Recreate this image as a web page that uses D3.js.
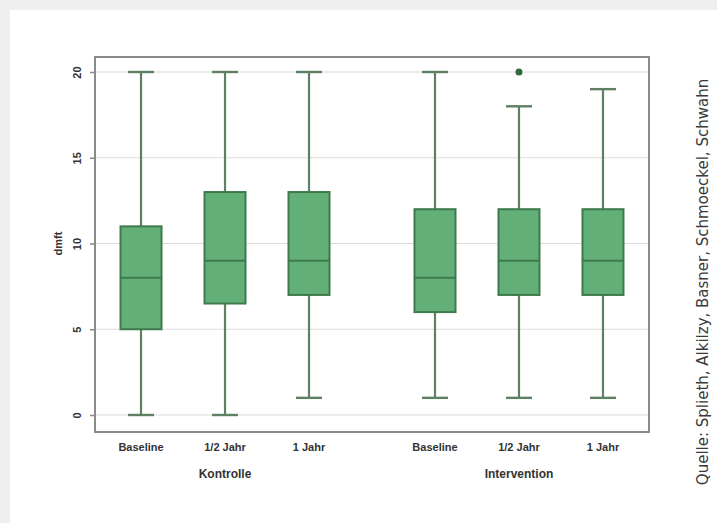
<!DOCTYPE html>
<html>
<head>
<meta charset="utf-8">
<script src="https://cdn.jsdelivr.net/npm/d3@7"></script>
<style>
  html, body { margin: 0; padding: 0; background: #efefef; }
  svg { display: block; }
  .tick text, .cat, .grp, .ytitle { font-family: "Liberation Sans", Arial, sans-serif; font-weight: bold; fill: #333; }
  .src { font-family: "DejaVu Sans", "Noto Sans", sans-serif; font-weight: 400; fill: #3a3a3a; }
</style>
</head>
<body>
<svg id="chart" width="717" height="523"></svg>
<script>
// groups and time points
const groups = ["Kontrolle", "Intervention"];
const timepoints = ["Baseline", "1/2 Jahr", "1 Jahr"];

// box statistics per group, in timepoint order
const mins    = [[0, 0, 1], [1, 1, 1]];
const q1s     = [[5, 6.5, 7], [6, 7, 7]];
const medians = [[8, 9, 9], [8, 9, 9]];
const q3s     = [[11, 13, 13], [12, 12, 12]];
const maxs    = [[20, 20, 20], [20, 18, 19]];
const outliers = [[[], [], []], [[], [20], []]];

const yTicks = [0, 5, 10, 15, 20];

const svg = d3.select("#chart");

// white card
svg.append("rect")
  .attr("x", 10).attr("y", 10)
  .attr("width", 717).attr("height", 523)
  .attr("fill", "#fff");

const frame = { left: 95, right: 649, top: 57, bottom: 432 };

// flat list of boxes with slot positions (half-box gap between groups)
const boxes = [];
groups.forEach((g, gi) => {
  timepoints.forEach((t, ti) => {
    boxes.push({
      group: g, label: t, slot: gi * 3.5 + ti,
      min: mins[gi][ti], q1: q1s[gi][ti], med: medians[gi][ti],
      q3: q3s[gi][ti], max: maxs[gi][ti], out: outliers[gi][ti]
    });
  });
});

const x = d3.scaleLinear().domain([-0.548, 6.048]).range([frame.left, frame.right]);
const y = d3.scaleLinear().domain([0, 20]).range([415, 72]);

// gridlines
svg.append("g")
  .selectAll("line")
  .data(yTicks)
  .join("line")
  .attr("x1", frame.left).attr("x2", frame.right)
  .attr("y1", d => y(d)).attr("y2", d => y(d))
  .attr("stroke", "#dcdcdc").attr("stroke-width", 1.2);

// frame
svg.append("rect")
  .attr("x", frame.left).attr("y", frame.top)
  .attr("width", frame.right - frame.left).attr("height", frame.bottom - frame.top)
  .attr("fill", "none").attr("stroke", "#8a8a8a").attr("stroke-width", 2);

// y axis, labels rotated
const yAxis = svg.append("g")
  .attr("transform", `translate(${frame.left},0)`)
  .call(d3.axisLeft(y).tickValues(yTicks).tickSize(5));
yAxis.select(".domain").remove();
yAxis.selectAll(".tick line").attr("stroke", "#8a8a8a").attr("stroke-width", 1.5);
yAxis.selectAll(".tick text")
  .attr("font-size", 11)
  .attr("text-anchor", "middle")
  .attr("x", 0).attr("y", 0).attr("dy", "0.35em")
  .attr("transform", "translate(-18,0) rotate(-90)");

svg.append("text")
  .attr("class", "ytitle")
  .attr("font-size", 11)
  .attr("text-anchor", "middle")
  .attr("transform", `translate(62,${y(10)}) rotate(-90)`)
  .text("dmft");

const boxW = 41, capW = 26;
const whiskerColor = "#5e8064";
const fillColor = "#62b077";
const strokeColor = "#3f7a4d";

const bx = svg.append("g").selectAll("g").data(boxes).join("g");

// whiskers
bx.append("line")
  .attr("x1", d => x(d.slot)).attr("x2", d => x(d.slot))
  .attr("y1", d => y(d.max)).attr("y2", d => y(d.q3))
  .attr("stroke", whiskerColor).attr("stroke-width", 2.2);
bx.append("line")
  .attr("x1", d => x(d.slot)).attr("x2", d => x(d.slot))
  .attr("y1", d => y(d.q1)).attr("y2", d => y(d.min))
  .attr("stroke", whiskerColor).attr("stroke-width", 2.2);
// caps
bx.selectAll(".cap")
  .data(d => [{ s: d.slot, v: d.max }, { s: d.slot, v: d.min }])
  .join("line")
  .attr("class", "cap")
  .attr("x1", d => x(d.s) - capW / 2).attr("x2", d => x(d.s) + capW / 2)
  .attr("y1", d => y(d.v)).attr("y2", d => y(d.v))
  .attr("stroke", whiskerColor).attr("stroke-width", 2.4);
// box
bx.append("rect")
  .attr("x", d => x(d.slot) - boxW / 2)
  .attr("y", d => y(d.q3))
  .attr("width", boxW)
  .attr("height", d => y(d.q1) - y(d.q3))
  .attr("fill", fillColor).attr("stroke", strokeColor).attr("stroke-width", 2);
// median
bx.append("line")
  .attr("x1", d => x(d.slot) - boxW / 2).attr("x2", d => x(d.slot) + boxW / 2)
  .attr("y1", d => y(d.med)).attr("y2", d => y(d.med))
  .attr("stroke", strokeColor).attr("stroke-width", 2);
// outliers
bx.selectAll(".out")
  .data(d => d.out.map(v => ({ s: d.slot, v })))
  .join("circle")
  .attr("class", "out")
  .attr("cx", d => x(d.s)).attr("cy", d => y(d.v))
  .attr("r", 3.5).attr("fill", "#2f6a3c");

// category labels
svg.append("g").selectAll("text").data(boxes).join("text")
  .attr("class", "cat")
  .attr("font-size", 11)
  .attr("text-anchor", "middle")
  .attr("x", d => x(d.slot)).attr("y", 451)
  .text(d => d.label);

// group labels
svg.append("g").selectAll("text").data(groups).join("text")
  .attr("class", "grp")
  .attr("font-size", 12)
  .attr("text-anchor", "middle")
  .attr("x", (d, i) => x(i * 3.5 + 1)).attr("y", 478)
  .text(d => d);

// source note
svg.append("text")
  .attr("class", "src")
  .attr("font-size", 15)
  .attr("text-anchor", "middle")
  .attr("transform", "translate(708,282) rotate(-90)")
  .text("Quelle: Splieth, Alkilzy, Basner, Schmoeckel, Schwahn");
</script>
</body>
</html>
